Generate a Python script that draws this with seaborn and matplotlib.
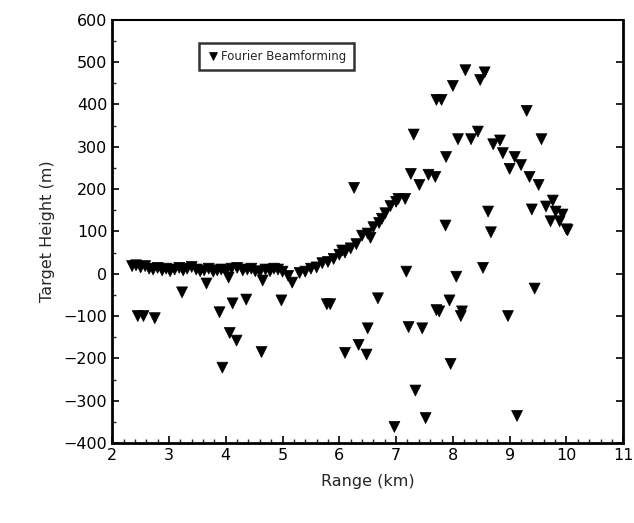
import matplotlib
matplotlib.use("Agg")
import matplotlib.pyplot as plt
import seaborn as sns
import pandas as pd
from matplotlib.ticker import MultipleLocator

# Flat near-zero section
flat_range = [2.35, 2.42, 2.5, 2.58, 2.65, 2.72, 2.8, 2.88, 2.95, 3.02, 3.1, 3.18,
              3.25, 3.32, 3.4, 3.48, 3.55, 3.62, 3.7, 3.78, 3.85, 3.92, 4.0, 4.1,
              4.2, 4.3, 4.38, 4.45, 4.52, 4.6, 4.7, 4.78, 4.85, 4.92, 4.05, 3.66, 4.65]
flat_height = [18, 20, 15, 18, 12, 10, 14, 8, 12, 6, 10, 14,
               8, 12, 16, 10, 6, 8, 12, 5, 8, 10, 6, 12,
               14, 8, 10, 12, 6, 4, 10, 6, 12, 10, -9, -23, -16]

# Rising / peak trend section
trend_range = [5.0, 5.1, 5.17, 5.3, 5.4, 5.5, 5.6, 5.7, 5.8, 5.9, 6.0, 6.05, 6.1,
               6.2, 6.3, 6.4, 6.5, 6.55, 6.6, 6.7, 6.75, 6.81, 6.9, 7.0, 7.04, 7.16,
               7.26, 7.41, 7.57, 7.69, 7.88, 8.09, 8.32, 8.44, 8.71, 8.83, 8.88,
               9.09, 9.0, 9.2, 9.35, 9.51, 9.76, 9.39, 9.64, 9.81, 9.93, 9.72, 9.88,
               10.02, 10.0]
trend_height = [5, -5, -21, 2, 5, 12, 15, 25, 28, 35, 45, 55, 50,
                60, 70, 90, 95, 85, 110, 120, 130, 143, 160, 170, 177, 177,
                236, 210, 234, 229, 276, 318, 318, 336, 306, 315, 285,
                276, 248, 257, 229, 210, 173, 152, 159, 147, 140, 124, 124,
                103, 105]

# Scattered outliers
outlier_range = [2.45, 2.55, 2.75, 3.23, 3.89, 4.12, 4.36, 4.07, 4.19, 3.94, 4.63, 4.98,
                 5.78, 5.84, 6.26, 6.68, 7.18, 6.5, 7.22, 7.46, 7.71, 6.34, 6.1, 6.48,
                 7.34, 7.52, 6.97, 8.22, 8.56, 8.48, 8.0, 7.71, 7.8, 9.3, 7.31, 9.56,
                 8.62, 7.87, 8.67, 8.53, 8.06, 9.44, 7.94, 7.76, 8.16, 8.14, 8.97,
                 7.96, 9.13]
outlier_height = [-100, -100, -105, -44, -91, -70, -61, -140, -158, -222, -185, -63,
                  -72, -72, 203, -58, 5, -129, -126, -129, -86, -168, -187, -191,
                  -276, -341, -362, 481, 476, 458, 444, 411, 411, 385, 329, 318,
                  147, 114, 98, 14, -7, -35, -63, -89, -89, -100, -100,
                  -213, -336]

x_ticks = [2, 3, 4, 5, 6, 7, 8, 9, 10, 11]
y_ticks = [-400, -300, -200, -100, 0, 100, 200, 300, 400, 500, 600]

df = pd.DataFrame({
    "range": flat_range + trend_range + outlier_range,
    "height": flat_height + trend_height + outlier_height,
})
df["label"] = "Fourier Beamforming"

sns.set_style("white")
plt.rcParams["font.family"] = ["DejaVu Sans"]

fig = plt.figure(figsize=(6.34, 5.23), dpi=100)
ax = fig.add_axes([0.177, 0.153, 0.806, 0.809])

sns.scatterplot(data=df, x="range", y="height", hue="label", palette=["black"],
                marker="v", s=62, edgecolor="black", linewidth=0.5, ax=ax)

ax.set_xlim(2, 11)
ax.set_ylim(-400, 600)
ax.set_xticks(x_ticks)
ax.set_yticks(y_ticks)
ax.yaxis.set_minor_locator(MultipleLocator(50))
ax.xaxis.set_minor_locator(MultipleLocator(0.2))
ax.tick_params(axis="both", which="major", direction="in", length=5, width=1.2,
               labelsize=11.5, colors="black", left=True, bottom=True, right=True)
ax.tick_params(axis="both", which="minor", direction="in", length=3, width=1,
               left=True, bottom=True)
ax.set_xlabel("Range (km)", fontsize=11.5, labelpad=8)
ax.set_ylabel("Target Height (m)", fontsize=11.5, labelpad=6)

for side in ["left", "bottom", "right"]:
    ax.spines[side].set_linewidth(2.0)
ax.spines["top"].set_linewidth(1.5)
for s in ax.spines.values():
    s.set_color("black")

leg = ax.legend(loc="upper left", bbox_to_anchor=(0.158, 0.96), frameon=True,
                fancybox=False, edgecolor="black", fontsize=8.5, handletextpad=0.1,
                markerscale=0.65, borderpad=0.6, handlelength=1.2, title=None)
leg.get_frame().set_linewidth(1.8)

fig.savefig("out.png", dpi=100)
